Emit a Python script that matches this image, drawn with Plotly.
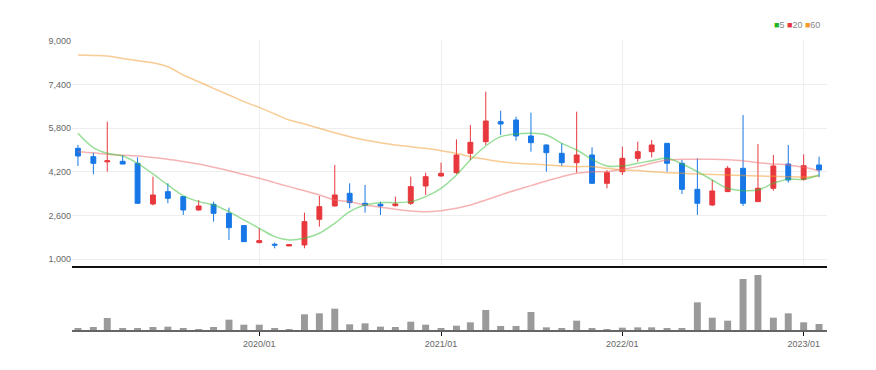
import pandas as pd
import plotly.graph_objects as go

# ---- data ----
dates = pd.date_range("2019-01-01", periods=50, freq="MS")

open_ = [5056, 4751, 4560, 4580, 4507, 3017, 3469, 3286, 2797, 3005,
         2675, 2224, 1601, 1540, 1480, 1515, 2455, 2944, 3408, 3041,
         3005, 2956, 3042, 3676, 4043, 4165, 4873, 5300, 6033, 6094,
         5508, 5178, 4873, 4531, 4812, 3774, 4202, 4690, 4934, 5239,
         4507, 3554, 2980, 3469, 4324, 3103, 3591, 4482, 3921, 4446]
high = [5178, 4897, 6033, 4812, 4727, 4018, 3774, 3290, 3164, 3103,
        2883, 2230, 2126, 1600, 1540, 2700, 3310, 4446, 3774, 3713,
        3103, 3286, 4018, 4165, 4531, 5386, 5911, 7132, 6436, 6216,
        6363, 5200, 5240, 6399, 5093, 4262, 5117, 5300, 5361, 5245,
        4629, 4690, 3896, 4409, 6277, 5215, 4812, 5178, 4836, 4751]
low = [4409, 4104, 4202, 4480, 3030, 2968, 3042, 2614, 2773, 2370,
       1698, 1630, 1576, 1393, 1470, 1393, 2187, 2920, 2858, 2700,
       2614, 2920, 2980, 3347, 4018, 4116, 4629, 5178, 5545, 5337,
       4934, 4202, 4409, 4165, 3760, 3591, 4080, 4568, 4727, 4202,
       3383, 2614, 2944, 3460, 2944, 3090, 3506, 3798, 3872, 3994]
close = [4775, 4507, 4600, 4480, 3042, 3347, 3225, 2797, 2944, 2675,
         2150, 1637, 1674, 1510, 1527, 2370, 2919, 3347, 3066, 2968,
         2944, 3017, 3652, 4018, 4140, 4812, 5276, 6057, 5948, 5508,
         5264, 4897, 4531, 4812, 3774, 4165, 4690, 4934, 5178, 4507,
         3554, 3042, 3493, 4324, 3042, 3591, 4409, 3896, 4421, 4263]

ma5 = [5606, 5080, 4873, 4775, 4507, 4116, 3713, 3322, 3103, 2980,
       2736, 2431, 2126, 1820, 1698, 1760, 1943, 2309, 2736, 2980,
       3066, 3066, 3103, 3286, 3591, 4080, 4629, 5142, 5484, 5581,
       5606, 5545, 5239, 4995, 4650, 4409, 4409, 4507, 4605, 4690,
       4482, 4202, 3896, 3591, 3506, 3530, 3774, 3921, 3921, 4080]
ma20 = [4934, 4890, 4836, 4800, 4775, 4720, 4653, 4570, 4482, 4360,
        4238, 4100, 3957, 3800, 3652, 3500, 3347, 3164, 3103, 2980,
        2895, 2822, 2761, 2736, 2773, 2858, 2980, 3164, 3347, 3530,
        3689, 3860, 4018, 4140, 4200, 4202, 4287, 4385, 4507, 4629,
        4653, 4653, 4653, 4640, 4605, 4531, 4482, 4446, 4360, 4238]
ma60 = [8475, 8460, 8438, 8350, 8267, 8194, 8048, 7742, 7498, 7254,
        7010, 6766, 6558, 6314, 6094, 5950, 5789, 5630, 5484, 5361,
        5264, 5178, 5117, 5056, 4971, 4873, 4751, 4653, 4568, 4507,
        4482, 4446, 4409, 4385, 4385, 4324, 4263, 4240, 4200, 4165,
        4140, 4116, 4100, 4080, 4060, 4043, 4030, 4018, 4010, 4043]

volume = [5, 9, 36, 5, 5, 9, 10, 5, 2, 9,
          31, 16, 16, 5, 1, 47, 50, 64, 17, 20,
          10, 9, 25, 16, 6, 13, 23, 60, 12, 12,
          54, 8, 5, 28, 5, 3, 7, 8, 8, 5,
          5, 83, 37, 28, 153, 165, 37, 50, 23, 18]
volume = [v * 1000 for v in volume]

price_ticks = [1000, 2600, 4200, 5800, 7400, 9000]
price_tick_text = ["1,000", "2,600", "4,200", "5,800", "7,400", "9,000"]
year_ticks = ["2020-01-01", "2021-01-01", "2022-01-01", "2023-01-01"]
year_tick_text = ["2020/01", "2021/01", "2022/01", "2023/01"]

RED = "#e8383d"
BLUE = "#1777e6"
FONT = "Liberation Sans, Arial, sans-serif"

fig = go.Figure()
fig.add_trace(go.Candlestick(
    x=dates, open=open_, high=high, low=low, close=close,
    increasing=dict(line=dict(color=RED, width=1), fillcolor=RED),
    decreasing=dict(line=dict(color=BLUE, width=1), fillcolor=BLUE),
    whiskerwidth=0, showlegend=False, xaxis="x", yaxis="y", name=""))
for vals, col in [(ma60, "#f59a2d"), (ma20, "#f06a6a"), (ma5, "#36c036")]:
    fig.add_trace(go.Scatter(x=dates, y=vals, mode="lines",
                             line=dict(color=col, width=1.5, shape="spline"),
                             opacity=0.5, showlegend=False, xaxis="x", yaxis="y"))
fig.add_trace(go.Bar(x=dates, y=volume, marker=dict(color="#9a9a9a", line=dict(width=0)),
                     width=14 * 86400000, showlegend=False, xaxis="x2", yaxis="y2"))

fig.update_layout(
    width=868, height=362,
    margin=dict(l=64, r=49, t=32, b=40),
    paper_bgcolor="white", plot_bgcolor="white",
    font=dict(family=FONT, size=9, color="#666666"),
    boxgap=0.5,
    xaxis=dict(domain=[0, 1], anchor="y", range=["2018-12-20", "2023-02-17"],
               type="date", tickvals=year_ticks, showticklabels=False,
               showgrid=True, gridcolor="#eeeeee", gridwidth=1,
               showline=True, linecolor="#111111", linewidth=2,
               zeroline=False, rangeslider=dict(visible=False), ticks=""),
    xaxis2=dict(domain=[0, 1], anchor="y2", matches="x", type="date",
                tickvals=year_ticks, ticktext=year_tick_text,
                ticks="outside", ticklen=4, tickcolor="#111111", tickwidth=1,
                showgrid=False, showline=True, linecolor="#666666", linewidth=2,
                zeroline=False, tickfont=dict(size=9, color="#666666")),
    yaxis=dict(domain=[0.2207, 1], anchor="x", range=[744, 9026],
               tickvals=price_ticks, ticktext=price_tick_text,
               showgrid=True, gridcolor="#eeeeee", zeroline=False,
               showline=False, ticks="", tickfont=dict(size=9, color="#666666")),
    yaxis2=dict(domain=[0, 0.2], anchor="x2", range=[0, 174000],
                showgrid=False, showticklabels=False, zeroline=False, showline=False),
    annotations=[dict(
        xref="paper", yref="paper", x=0.993, y=1.05, xanchor="right", yanchor="middle",
        showarrow=False, font=dict(size=9, color="#888888", family=FONT),
        text="<span style='color:#22b422'>■</span>5 <span style='color:#e8363c'>■</span>20 "
             "<span style='color:#f59a2d'>■</span>60")],
)

fig.write_html("out.html")
